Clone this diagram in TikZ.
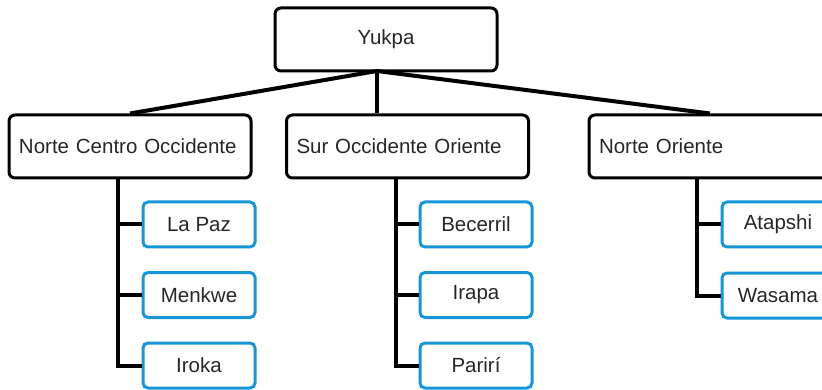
\documentclass[tikz,border=0pt]{standalone}
\usepackage{fontspec}
\setmainfont{Liberation Sans}
\definecolor{azul}{RGB}{22,150,214}
\tikzset{
	raiz/.style={draw=black, line width=3pt, rounded corners=6pt, minimum width=222pt, minimum height=63pt, text=black!85},
	grupo/.style={draw=black, line width=3pt, rounded corners=6pt, text width=222pt, inner xsep=10pt, minimum height=63pt, align=left, text=black!85},
	dialecto/.style={draw=azul, line width=3pt, rounded corners=5pt, minimum width=112pt, minimum height=45pt, text=black!85},
	rama/.style={line width=4pt, black}
}
\begin{document}
\begin{tikzpicture}[x=1pt, y=-1pt, font=\fontsize{20.5}{24}\selectfont]
		\useasboundingbox (0,0) rectangle (822,390);
		\clip (0,0) rectangle (822,390);

		% top level
		\node[raiz] (yukpa) at (386,39.5) {Yukpa};
		\coordinate (centro) at (377,71);

		% groups
		\node[grupo] (nco) at (130,146.5) {Norte Centro Occidente};
		\node[grupo] (soo) at (407.5,146.5) {Sur Occidente Oriente};
		\node[grupo] (no) at (710,146.5) {Norte Oriente};

		\draw[rama] (centro) -- (nco.north);
		\draw[rama] (centro) -- (centro |- soo.north);
		\draw[rama] (centro) -- (no.north);

		% dialects
		\node[dialecto] (lapaz) at (199,224.5) {La Paz};
		\node[dialecto] (menkwe) at (199,295) {Menkwe};
		\node[dialecto] (iroka) at (199,365.5) {Iroka};

		\node[dialecto] (becerril) at (476,224.5) {Becerril};
		\node[dialecto] (irapa) at (476,295) {Irapa};
		\node[dialecto] (pariri) at (476,365.5) {Parirí};

		\node[dialecto] (atapshi) at (778,224.5) {Atapshi};
		\node[dialecto] (wasama) at (778,295.5) {Wasama};

		% trunks under each group
		\path (nco.south) ++(-12,0) coordinate (t1);
		\path (soo.south) ++(-11.5,0) coordinate (t2);
		\path (no.south) ++(-13,0) coordinate (t3);

		\draw[rama] (t1) |- (lapaz.west) (t1) |- (menkwe.west) (t1) |- (iroka.west);
		\draw[rama] (t2) |- (becerril.west) (t2) |- (irapa.west) (t2) |- (pariri.west);
		\draw[rama] (t3) |- (atapshi.west) (t3) |- (wasama.west);

	\end{tikzpicture}
\end{document}
